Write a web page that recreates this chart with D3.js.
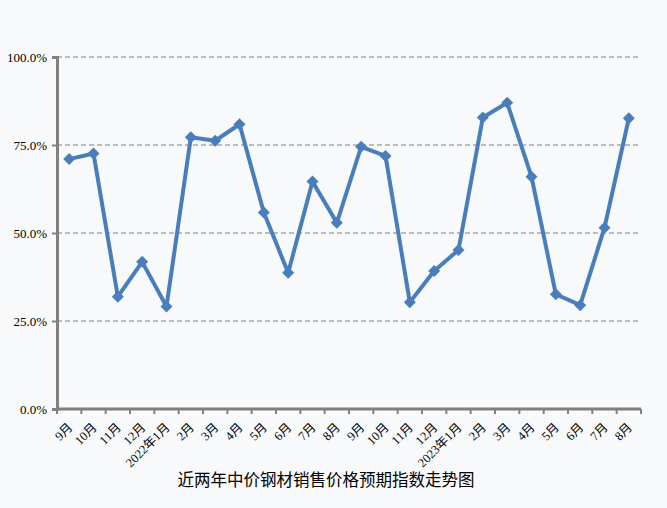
<!DOCTYPE html>
<html><head><meta charset="utf-8">
<script src="https://cdn.jsdelivr.net/npm/d3@7"></script>
<style>
html,body{margin:0;padding:0;background:#f8f9fa;}
svg{display:block;}
</style></head>
<body>
<script>
const categories = ["9月","10月","11月","12月","2022年1月","2月","3月","4月","5月","6月","7月","8月",
  "9月","10月","11月","12月","2023年1月","2月","3月","4月","5月","6月","7月","8月"];
const values = [71.0,72.6,31.9,41.8,29.1,77.2,76.2,80.9,55.8,38.7,64.6,52.9,
  74.5,71.9,30.3,39.2,45.2,82.8,87.0,66.0,32.6,29.5,51.5,82.6];
const yTicks = [0,25,50,75,100];
const title = "近两年中价钢材销售价格预期指数走势图";

const W=667,H=508;
const svg=d3.select("body").append("svg").attr("width",W).attr("height",H);
svg.append("rect").attr("width",W).attr("height",H).attr("fill","#f8f9fa");

const x=d3.scaleBand().domain(d3.range(categories.length)).range([57,641]);
const y=d3.scaleLinear().domain([0,100]).range([409,57]);

// gridlines
svg.append("g").selectAll("line").data(yTicks.filter(d=>d>0)).join("line")
  .attr("x1",57).attr("x2",641).attr("y1",d=>y(d)).attr("y2",d=>y(d))
  .attr("stroke","#7f7f7f").attr("stroke-width",1).attr("stroke-dasharray","5,3");

// y axis
const ya=svg.append("g").attr("transform","translate(57,0)")
  .call(d3.axisLeft(y).tickValues(yTicks).tickSize(5).tickFormat(d=>d.toFixed(1)+"%"));
ya.select(".domain").attr("stroke","#808080").attr("stroke-width",3);
ya.selectAll(".tick line").attr("stroke","#808080").attr("stroke-width",2);
ya.selectAll(".tick text").attr("font-family","'Liberation Serif','DejaVu Serif',serif")
  .attr("font-size",13).attr("fill","#000").attr("x",-10);

// x axis
const xa=svg.append("g").attr("transform","translate(0,409)");
xa.append("line").attr("x1",57).attr("x2",641).attr("stroke","#808080").attr("stroke-width",3);
const bounds=d3.range(categories.length+1).map(i=>57+i*x.step());
xa.selectAll("line.t").data(bounds).join("line").attr("class","t")
  .attr("x1",d=>d).attr("x2",d=>d).attr("y1",0).attr("y2",5)
  .attr("stroke","#808080").attr("stroke-width",2);
xa.selectAll("text").data(categories).join("text")
  .attr("transform",(d,i)=>`translate(${x(i)+x.bandwidth()/2+1},${16}) rotate(-45)`)
  .attr("text-anchor","end").attr("dy","0.35em")
  .attr("font-family","'Liberation Serif','Noto Sans CJK SC',serif")
  .attr("font-size",12.5).attr("fill","#000").text(d=>d);

// line
const line=d3.line().x((d,i)=>x(i)+x.bandwidth()/2).y(d=>y(d));
svg.append("path").datum(values).attr("d",line).attr("fill","none")
  .attr("stroke","#4a7ebb").attr("stroke-width",4).attr("stroke-linejoin","round");
svg.append("g").selectAll("path").data(values).join("path")
  .attr("d",d3.symbol(d3.symbolSquare,72)())
  .attr("transform",(d,i)=>`translate(${x(i)+x.bandwidth()/2},${y(d)}) rotate(45)`)
  .attr("fill","#4a7ebb");

// title
svg.append("text").attr("x",326).attr("y",486).attr("text-anchor","middle")
  .attr("font-family","'Noto Sans CJK SC',sans-serif").attr("font-size",16.5).attr("fill","#000")
  .text(title);
</script>
</body></html>
